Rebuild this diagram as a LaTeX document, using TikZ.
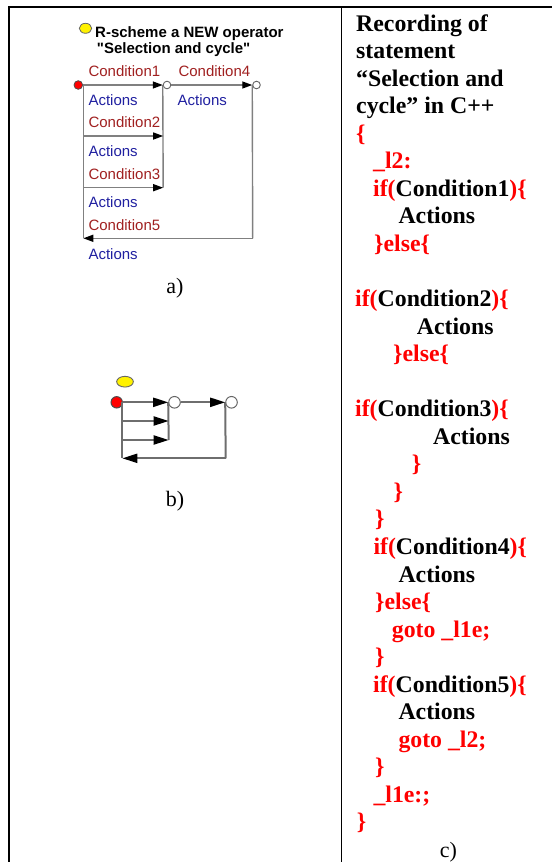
\documentclass[tikz,border=0pt]{standalone}
\usepackage{fontspec}
\setmainfont{Liberation Serif}
\newfontfamily\arialfam{Liberation Sans}
\usetikzlibrary{arrows.meta,shapes.geometric}

\definecolor{condred}{RGB}{160,32,32}
\definecolor{actblue}{RGB}{32,32,160}
\definecolor{wireA}{RGB}{128,128,128}
\definecolor{wireB}{RGB}{110,110,110}
\definecolor{codered}{RGB}{255,0,0}
\newcommand\rd[1]{\textcolor{codered}{#1}}

\begin{document}
\begin{tikzpicture}[x=1pt,y=-1pt,
  lbl/.style={anchor=base west,inner sep=0pt,font=\arialfam\fontsize{15}{18}\selectfont},
  cond/.style={lbl,text=condred},
  act/.style={lbl,text=actblue},
  ttl/.style={anchor=base west,inner sep=0pt,font=\arialfam\bfseries\fontsize{15}{18}\selectfont},
  lineA/.style={draw=wireA,line width=1.4pt},
  arrA/.style={lineA,-{Triangle[length=10pt,width=7pt,color=black]}},
  lineB/.style={draw=wireB,line width=2pt},
  arrB/.style={lineB,-{Triangle[length=15pt,width=9pt,color=black]}},
  startA/.style={circle,draw=black!70,fill=red,inner sep=0pt,minimum size=8.6pt,line width=0.8pt},
  openA/.style={circle,draw=black!60,fill=white,inner sep=0pt,minimum size=7.6pt,line width=0.9pt},
  startB/.style={circle,draw=black!70,fill=red,inner sep=0pt,minimum size=11.4pt,line width=1pt},
  openB/.style={circle,draw=black!60,fill=white,inner sep=0pt,minimum size=11.6pt,line width=1pt},
  code/.style={anchor=base west,inner sep=0pt,font=\bfseries\fontsize{23.8}{28}\selectfont},
  capt/.style={anchor=base,inner sep=0pt,font=\fontsize{22}{26}\selectfont},
  grid/.style={draw=black,line width=2pt}
]
\useasboundingbox (0,0) rectangle (552,862);

% table frame
\draw[grid] (9,862) -- (9,7) -- (552,7);
\draw[draw=black,line width=1.5pt] (341.5,7) -- (341.5,862);

% ---------- a) R-scheme with labels ----------
\node[ellipse,draw=black!60,fill=yellow,inner sep=0pt,minimum width=12.4pt,minimum height=10pt,line width=0.8pt] (ya) at (85.5,28.3) {};
\node[ttl] (ttl1) at (95,37.3) {R-scheme a NEW operator};
\node[ttl] (ttl2) at (96.7,53.3) {"Selection and cycle"};

\node[startA] (ra) at (78.3,85) {};
\node[openA] (oa1) at (167,85) {};
\node[openA] (oa2) at (256.5,85) {};

\coordinate (aL1) at (83.3,85);
\coordinate (aL2) at (83.3,136);
\coordinate (aL3) at (83.3,187.7);
\coordinate (aL4) at (83.3,238.3);
\coordinate (aR2) at (163.2,136);
\coordinate (aR3) at (163.2,187.7);
\coordinate (aB)  at (252.7,238.3);

\draw[lineA] (aL1) -- (aL4);
\draw[lineA] (oa1.west) -- (aR3);
\draw[lineA] (oa2.west) -- (aB);
\draw[arrA] (ra) -- (oa1);
\draw[arrA] (oa1) -- (oa2);
\draw[arrA] (aL2) -- (aR2);
\draw[arrA] (aL3) -- (aR3);
\draw[arrA] (aB) -- (aL4);

\node[cond] (c1) at (88.3,76.7) {Condition1};
\node[cond] (c4) at (178.3,76.7) {Condition4};
\node[act] (a1) at (88.3,105.5) {Actions};
\node[act] (a4) at (177.5,105.5) {Actions};
\node[cond] (c2) at (88.3,127.3) {Condition2};
\node[act] (a2) at (88.3,156.5) {Actions};
\node[cond] (c3) at (88.3,179) {Condition3};
\node[act] (a3) at (88.3,207.3) {Actions};
\node[cond] (c5) at (88.3,230) {Condition5};
\node[act] (a5) at (88.3,259) {Actions};

\node[capt] (capa) at (175,293) {a)};

% ---------- b) bare R-scheme ----------
\node[ellipse,draw=black!60,fill=yellow,inner sep=0pt,minimum width=16.7pt,minimum height=10.7pt,line width=0.9pt] (yb) at (125,381.7) {};
\node[startB] (rb) at (116.7,402.3) {};
\node[openB] (ob1) at (174.5,402.3) {};
\node[openB] (ob2) at (231.5,402.3) {};

\coordinate (bL1) at (122.3,402.3);
\coordinate (bL2) at (122.3,421);
\coordinate (bL3) at (122.3,440);
\coordinate (bL4) at (122.3,458.3);
\coordinate (bR2) at (168.7,421);
\coordinate (bR3) at (168.7,440);
\coordinate (bB)  at (225.7,458.3);

\draw[lineB] (bL1) -- (bL4);
\draw[lineB] (ob1.west) -- (bR3);
\draw[lineB] (ob2.west) -- (bB);
\draw[arrB] (rb) -- (ob1);
\draw[arrB] (ob1) -- (ob2);
\draw[arrB] (bL2) -- (bR2);
\draw[arrB] (bL3) -- (bR3);
\draw[arrB] (bB) -- (bL4);

\node[capt] (capb) at (175,506) {b)};

% ---------- c) C++ listing ----------
\node[code] (t0)  at (356,31.0)    {Recording of};
\node[code] (t1)  at (356,58.55)   {statement};
\node[code] (t2)  at (356,86.1)    {“Selection and};
\node[code] (t3)  at (356,113.65)  {cycle” in C++};
\node[code] (t4)  at (356,141.2)   {\rd{\{}};
\node[code] (t5)  at (373,168.75)  {\rd{\_l2:}};
\node[code] (t6)  at (373,196.3)   {\rd{if(}Condition1\rd{)\{}};
\node[code] (t7)  at (398.3,223.85){Actions};
\node[code] (t8)  at (374,251.4)   {\rd{\}else\{}};
\node[code] (t10) at (355,306.5)   {\rd{if(}Condition2\rd{)\{}};
\node[code] (t11) at (416.7,334.05){Actions};
\node[code] (t12) at (393,361.6)   {\rd{\}else\{}};
\node[code] (t14) at (355,416.7)   {\rd{if(}Condition3\rd{)\{}};
\node[code] (t15) at (433,444.25)  {Actions};
\node[code] (t16) at (411.7,471.8) {\rd{\}}};
\node[code] (t17) at (393.3,499.35){\rd{\}}};
\node[code] (t18) at (375,526.9)   {\rd{\}}};
\node[code] (t19) at (373.3,554.45){\rd{if(}Condition4\rd{)\{}};
\node[code] (t20) at (398.3,582.0) {Actions};
\node[code] (t21) at (375,609.55)  {\rd{\}else\{}};
\node[code] (t22) at (391.7,637.1) {\rd{goto \_l1e;}};
\node[code] (t23) at (375,664.65)  {\rd{\}}};
\node[code] (t24) at (373,692.2)   {\rd{if(}Condition5\rd{)\{}};
\node[code] (t25) at (398.3,719.75){Actions};
\node[code] (t26) at (398.3,747.3) {\rd{goto \_l2;}};
\node[code] (t27) at (375,774.85)  {\rd{\}}};
\node[code] (t28) at (373.3,802.4) {\rd{\_l1e:;}};
\node[code] (t29) at (356.7,829.95){\rd{\}}};
\node[capt] (capc) at (448.5,857.5) {c)};
\end{tikzpicture}
\end{document}
